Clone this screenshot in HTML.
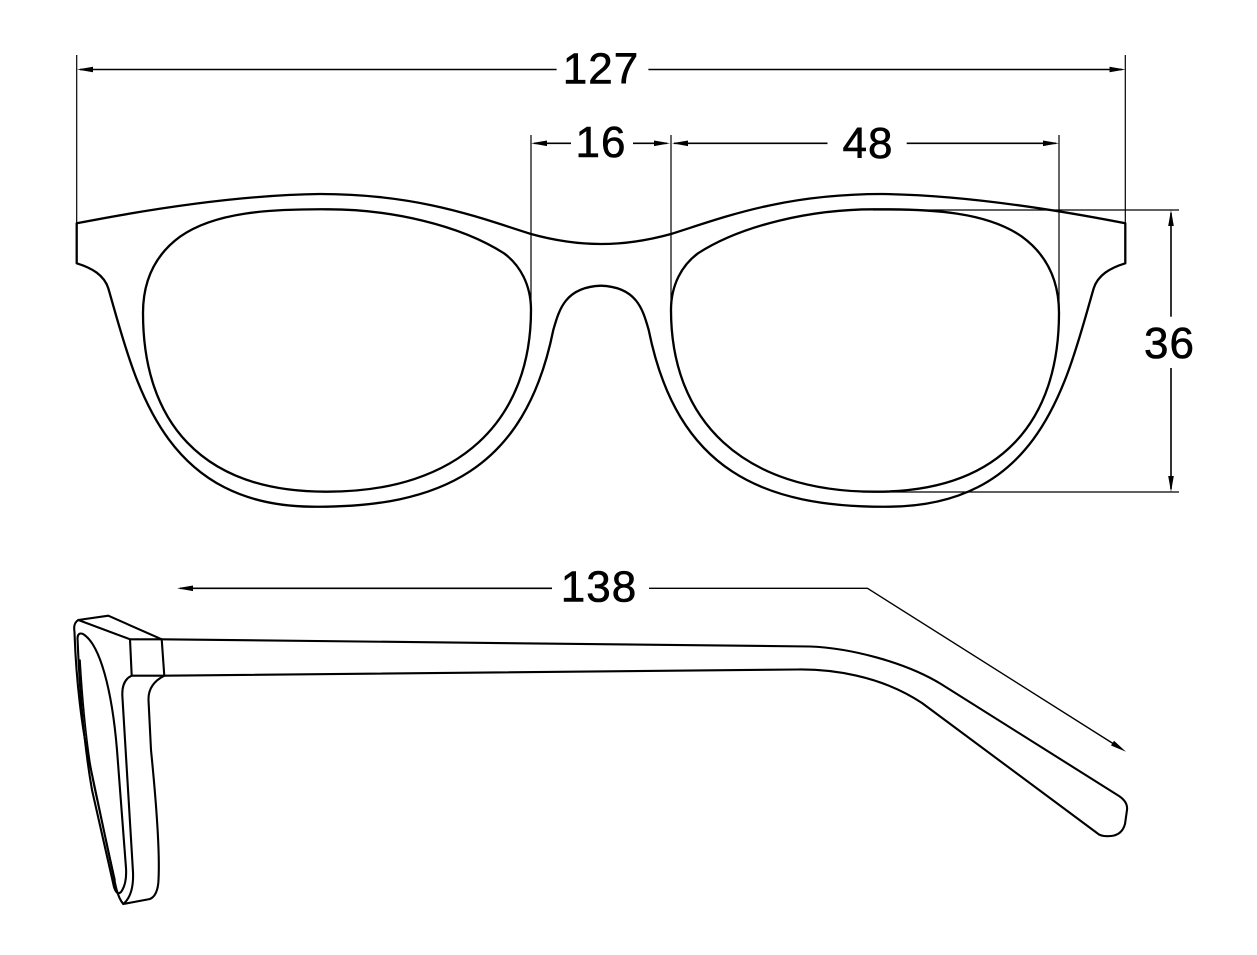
<!DOCTYPE html>
<html>
<head>
<meta charset="utf-8">
<style>
html,body{margin:0;padding:0;background:#fff;}
svg{display:block;}
text{font-family:"Liberation Sans",Arial,sans-serif;font-size:44px;fill:#000;stroke:#000;stroke-width:0.6px;letter-spacing:1px;}
</style>
</head>
<body>
<svg width="1257" height="955" viewBox="0 0 1257 955" xmlns="http://www.w3.org/2000/svg">
<defs>
<g id="half">
<path d="M601,244 C585,244 560,242 531,234 C480,218 420,194 320,194 C240,195 150,209 76.7,223.3 L76.7,263.3 C92,268 104,275 108.3,288.3 C135,380 160,505 311.6,506.7 C440,508 525,470 553.3,330 C559,310 565,287 601,285.7" fill="none" stroke="#000" stroke-width="2.3" stroke-linejoin="round"/>
<path d="M326.4,209.3 C390,209 460,225 504,253.3 C520,265 531,285 531,310 C531,420 460,492 326.4,491.7 C200,492 143,420 143,313 C143,280 155,255 180,236.7 C215,212 270,209 326.4,209.3 Z" fill="none" stroke="#000" stroke-width="2.3"/>
</g>
</defs>

<!-- Front view -->
<use href="#half"/>
<use href="#half" transform="matrix(-1 0 0 1 1202 0)"/>

<!-- extension lines -->
<g stroke="#000" stroke-width="1.2" fill="none">
<line x1="76.7" y1="55" x2="76.7" y2="224"/>
<line x1="1125.3" y1="55" x2="1125.3" y2="224"/>
<line x1="531" y1="135" x2="531" y2="308"/>
<line x1="671" y1="135" x2="671" y2="308"/>
<line x1="1059" y1="135" x2="1059" y2="305"/>
<line x1="873" y1="210" x2="1179" y2="210"/>
<line x1="862" y1="492" x2="1179" y2="492"/>
</g>

<!-- dimension lines -->
<g stroke="#000" stroke-width="1.6" fill="none">
<line x1="80" y1="69.5" x2="556.6" y2="69.5"/>
<line x1="648.4" y1="69.5" x2="1122" y2="69.5"/>
<line x1="534" y1="143.3" x2="571" y2="143.3"/>
<line x1="633" y1="143.3" x2="667" y2="143.3"/>
<line x1="674" y1="143.3" x2="827.5" y2="143.3"/>
<line x1="906.7" y1="143.3" x2="1056" y2="143.3"/>
<line x1="1171" y1="213" x2="1171" y2="316.7"/>
<line x1="1171" y1="368" x2="1171" y2="489"/>
<polyline points="180,588.3 552,588.3"/>
<polyline points="649,588.3 867.5,588.3 1113,743.5" stroke-width="1.4"/>
</g>

<!-- arrowheads -->
<g fill="#000" stroke="none">
<polygon points="77,69.5 93,66.7 93,72.3"/>
<polygon points="1125.5,69.5 1109.5,66.7 1109.5,72.3"/>
<polygon points="531,143.3 547,140.5 547,146.1"/>
<polygon points="670,143.3 654,140.5 654,146.1"/>
<polygon points="672,143.3 688,140.5 688,146.1"/>
<polygon points="1059,143.3 1043,140.5 1043,146.1"/>
<polygon points="1171,210 1168.2,226 1173.8,226"/>
<polygon points="1171,492 1168.2,476 1173.8,476"/>
<polygon points="177,588.3 193,585.5 193,591.1"/>
<polygon points="1126,751.7 1111,745.5 1114,740.7"/>
</g>

<!-- labels -->
<text x="601" y="83.5" text-anchor="middle">127</text>
<text x="601" y="157" text-anchor="middle">16</text>
<text x="868" y="158" text-anchor="middle">48</text>
<text x="1169.5" y="358" text-anchor="middle">36</text>
<text x="599" y="601.5" text-anchor="middle">138</text>

<!-- Side view -->
<g fill="none" stroke="#000" stroke-width="2.1" stroke-linejoin="round" stroke-linecap="round">
<!-- temple -->
<path d="M161.7,639.3 L810,646.5 C850,648 905,662 941,684 L1119,796 Q1128,802 1127,810 L1125,824 Q1122,835 1111,836 Q1101,837 1097,833 L922,703 C880,675 830,669 797,669.5 L164.3,675.7"/>
<!-- hinge top face -->
<path d="M78.3,620 L108.3,615.7 L161.7,639.3 L130,639.3 Z"/>
<!-- hinge front -->
<path d="M130,639.3 L131.7,675.7 L164.3,675.7 L161.7,639.3"/>
<!-- outer frame side -->
<path d="M78.3,620 Q73,623 74.5,632 C76,680 82,730 90,765 L115,883 Q118,898 123.3,904 L150,899 Q157,896 158.3,883 C160,860 158,820 151,750 L148.5,700 Q148,684 164.3,675.7"/>
<!-- front inner edge -->
<path d="M131.7,675.7 Q122,680 122.3,695 L133,872 Q134,895 123.3,904"/>
<!-- lens groove -->
<path d="M77.5,638 Q78,632 83,634 C100,644 112,690 117,750 L126,868 Q127,884 121,892 Q117,896 114,887 L92,790 C85,750 80,700 77.5,638 Z"/>
<path d="M80,660 C83,710 88,760 96,795 L115,880" stroke-width="1.6"/>
</g>
</svg>
</body>
</html>
